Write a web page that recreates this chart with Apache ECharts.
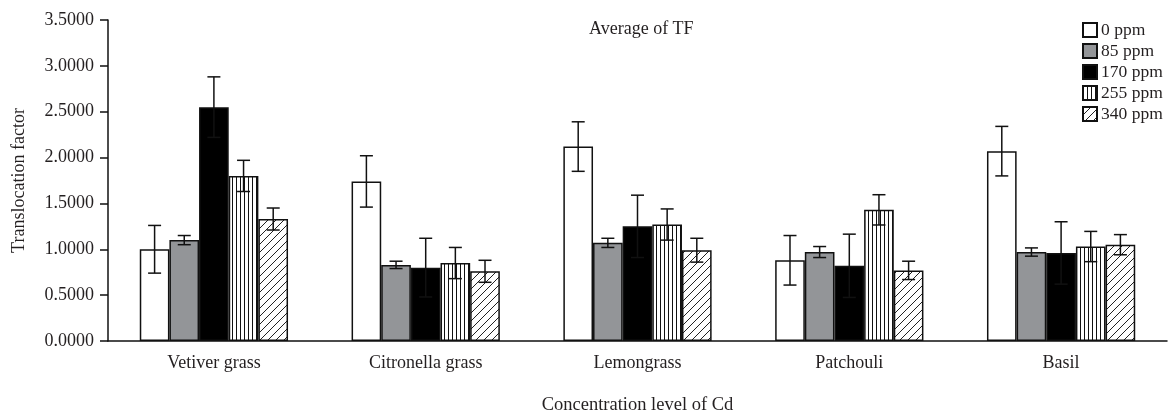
<!DOCTYPE html>
<html><head><meta charset="utf-8">
<script src="https://cdn.jsdelivr.net/npm/echarts@6/dist/echarts.min.js"></script>
<style>html,body{margin:0;padding:0;background:#fff}#c{width:1168px;height:413px}</style>
</head><body><div id="c"></div>
<script>
const categories = ['Vetiver grass', 'Citronella grass', 'Lemongrass', 'Patchouli', 'Basil'];
const seriesNames = ['0 ppm', '85 ppm', '170 ppm', '255 ppm', '340 ppm'];
const yTicks = ['0.0000','0.5000','1.0000','1.5000','2.0000','2.5000','3.0000','3.5000'];
const v0   = [1.00, 1.74, 2.12, 0.88, 2.07];
const v85  = [1.10, 0.83, 1.07, 0.97, 0.97];
const v170 = [2.55, 0.80, 1.25, 0.82, 0.96];
const v255 = [1.80, 0.85, 1.27, 1.43, 1.03];
const v340 = [1.33, 0.76, 0.99, 0.77, 1.05];
const e0   = [0.26, 0.28, 0.27, 0.27, 0.27];
const e85  = [0.05, 0.04, 0.05, 0.06, 0.045];
const e170 = [0.33, 0.32, 0.34, 0.345, 0.34];
const e255 = [0.17, 0.17, 0.17, 0.165, 0.165];
const e340 = [0.12, 0.12, 0.13, 0.10, 0.11];

const values = [v0, v85, v170, v255, v340];
const errors = [e0, e85, e170, e255, e340];

function vPattern(){
  const c = document.createElement('canvas'); c.width = 4; c.height = 4;
  const g = c.getContext('2d'); g.fillStyle = '#fff'; g.fillRect(0,0,4,4);
  g.fillStyle = '#111'; g.fillRect(0,0,1,4);
  return {image: c, repeat: 'repeat'};
}
function dPattern(){
  const s = 8;
  const c = document.createElement('canvas'); c.width = s; c.height = s;
  const g = c.getContext('2d'); g.fillStyle = '#fff'; g.fillRect(0,0,s,s);
  g.strokeStyle = '#222'; g.lineWidth = 1;
  g.beginPath();
  g.moveTo(0,s); g.lineTo(s,0);
  g.moveTo(-1,1); g.lineTo(1,-1);
  g.moveTo(s-1,s+1); g.lineTo(s+1,s-1);
  g.stroke();
  return {image: c, repeat: 'repeat'};
}
const fills = ['#ffffff', '#939598', '#000000', vPattern(), dPattern()];
const font = 'Liberation Serif';
const txt = '#231f20';

const series = [];
values.forEach((vals, i) => {
  series.push({
    name: seriesNames[i], type: 'bar', data: vals,
    barGap: '0%', barCategoryGap: '30%',
    itemStyle: {color: fills[i], borderColor: '#111', borderWidth: 1.5},
    emphasis: {disabled: true}
  });
});
values.forEach((vals, i) => {
  series.push({
    name: 'err' + i, type: 'custom', z: 5,
    data: vals.map((v, k) => [k, v - errors[i][k], v + errors[i][k]]),
    renderItem: function(params, api){
      const x = api.value(0);
      const lo = api.coord([x, api.value(1)]);
      const hi = api.coord([x, api.value(2)]);
      const band = api.size([1, 0])[0];
      const cx = lo[0] - 0.35 * band + (i + 0.5) * 0.14 * band;
      const hw = 6.5;
      const st = {stroke: '#111', lineWidth: 1.5, fill: null};
      return {type: 'group', children: [
        {type: 'line', shape: {x1: cx, y1: lo[1], x2: cx, y2: hi[1]}, style: st},
        {type: 'line', shape: {x1: cx - hw, y1: hi[1], x2: cx + hw, y2: hi[1]}, style: st},
        {type: 'line', shape: {x1: cx - hw, y1: lo[1], x2: cx + hw, y2: lo[1]}, style: st}
      ]};
    }
  });
});

const chart = echarts.init(document.getElementById('c'), null, {renderer: 'canvas'});
chart.setOption({
  animation: false,
  backgroundColor: '#fff',
  textStyle: {fontFamily: font, color: txt},
  title: {text: 'Average of TF', left: 584, top: 15,
    textStyle: {fontFamily: font, fontSize: 18, fontWeight: 'normal', color: txt}},
  legend: {data: seriesNames, orient: 'vertical', left: 1077, top: 16,
    itemWidth: 14, itemHeight: 14, itemGap: 3,
    textStyle: {fontFamily: font, fontSize: 17.5, color: txt, padding: [0,0,0,-1]},
    icon: 'rect', selectedMode: false},
  grid: {left: 108, right: 1, top: 20, bottom: 72, containLabel: false, outerBoundsMode: 'none'},
  xAxis: {type: 'category', data: categories,
    name: 'Concentration level of Cd', nameLocation: 'middle', nameGap: 55,
    nameTextStyle: {fontFamily: font, fontSize: 18.5, color: txt},
    axisLine: {lineStyle: {color: '#111', width: 1.5}},
    axisTick: {show: false},
    axisLabel: {fontFamily: font, fontSize: 18, color: txt, margin: 13}},
  yAxis: {type: 'value', min: 0, max: 3.5, interval: 0.5,
    name: 'Translocation factor', nameLocation: 'middle', nameGap: 80,
    nameTextStyle: {fontFamily: font, fontSize: 18, color: txt},
    axisLine: {show: true, lineStyle: {color: '#111', width: 1.5}},
    axisTick: {show: true, length: 8, lineStyle: {color: '#111', width: 1.5}},
    splitLine: {show: false},
    axisLabel: {fontFamily: font, fontSize: 18, color: txt, margin: 14,
      formatter: (v) => yTicks[Math.round(v / 0.5)]}},
  series: series
});
</script></body></html>
